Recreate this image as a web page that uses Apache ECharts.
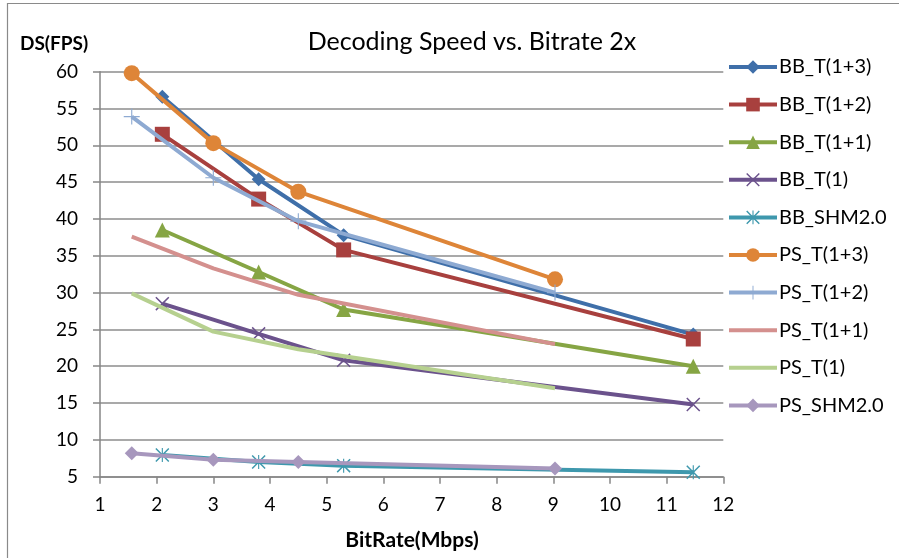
<!DOCTYPE html>
<html>
<head>
<meta charset="utf-8">
<script src="https://cdn.jsdelivr.net/npm/echarts@6/dist/echarts.min.js"></script>
<style>
html,body{margin:0;padding:0;background:#fff;}
#c{width:899px;height:558px;}
</style>
</head>
<body>
<div id="c"></div>
<script>
// ---- data ----
const seriesNames = ['BB_T(1+3)','BB_T(1+2)','BB_T(1+1)','BB_T(1)','BB_SHM2.0','PS_T(1+3)','PS_T(1+2)','PS_T(1+1)','PS_T(1)','PS_SHM2.0'];
const xBB = [2.1, 3.8, 5.3, 11.47];
const xPS = [1.56, 3.0, 4.5, 9.03];
const bbT13 = [56.6, 45.4, 37.8, 24.3];
const bbT12 = [51.5, 42.7, 35.8, 23.7];
const bbT11 = [38.5, 32.8, 27.7, 20.0];
const bbT1  = [28.5, 24.4, 20.8, 14.8];
const bbSHM = [7.95, 7.0, 6.5, 5.6];
const psT13 = [59.8, 50.3, 43.7, 31.8];
const psT12 = [53.9, 45.6, 39.7, 30.0];
const psT11 = [37.6, 33.3, 29.7, 23.0];
const psT1  = [29.9, 24.7, 22.3, 17.0];
const psSHM = [8.2, 7.3, 7.0, 6.1];
const xTicks = [1,2,3,4,5,6,7,8,9,10,11,12];
const yTicks = [5,10,15,20,25,30,35,40,45,50,55,60];

// ---- styling ----
const FONT = 'Lato, "Open Sans", sans-serif';
const X_PATH = 'path://M0,1.5L1.5,0L10,8.5L18.5,0L20,1.5L11.5,10L20,18.5L18.5,20L10,11.5L1.5,20L0,18.5L8.5,10Z';
const AST_PATH = 'path://M0,1.5L1.5,0L10,8.5L18.5,0L20,1.5L11.5,10L20,18.5L18.5,20L10,11.5L1.5,20L0,18.5L8.5,10Z M9.2,0L10.8,0L10.8,20L9.2,20Z';
const PLUS_PATH = 'path://M9.3,0L10.7,0L10.7,9.3L20,9.3L20,10.7L10.7,10.7L10.7,20L9.3,20L9.3,10.7L0,10.7L0,9.3L9.3,9.3Z';
const LINE_ICON = 'path://M0,0L48,0L48,4L0,4Z';

const defs = [
  {x: xBB, y: bbT13, color:'#3f6fa9', symbol:'diamond', size:14},
  {x: xBB, y: bbT12, color:'#a8403e', symbol:'rect', size:15},
  {x: xBB, y: bbT11, color:'#86a544', symbol:'triangle', size:15},
  {x: xBB, y: bbT1,  color:'#6b528c', symbol:X_PATH, size:14},
  {x: xBB, y: bbSHM, color:'#3e98ad', symbol:AST_PATH, size:14},
  {x: xPS, y: psT13, color:'#de8538', symbol:'circle', size:16},
  {x: xPS, y: psT12, color:'#8eaad2', symbol:PLUS_PATH, size:16},
  {x: xPS, y: psT11, color:'#d4908e', symbol:'none', size:0},
  {x: xPS, y: psT1,  color:'#b6d08f', symbol:'none', size:0},
  {x: xPS, y: psSHM, color:'#a797bd', symbol:'diamond', size:14}
];

const series = defs.map((d, i) => ({
  name: seriesNames[i],
  type: 'line',
  data: d.x.map((xv, j) => [xv, d.y[j]]),
  symbol: d.symbol,
  symbolSize: d.size,
  showSymbol: d.symbol !== 'none',
  lineStyle: {color: d.color, width: 4},
  itemStyle: {color: d.color},
  emphasis: {disabled: true},
  animation: false,
  z: 2 + i * 0.01
}));

const legendData = seriesNames.map((n, i) =>
  defs[i].symbol === 'none' ? {name: n, icon: LINE_ICON} : {name: n});

const chart = echarts.init(document.getElementById('c'));
chart.setOption({
  animation: false,
  backgroundColor: '#fff',
  grid: {left: 100, right: 175.7, top: 71.7, bottom: 81.3, containLabel: false},
  xAxis: {
    type: 'value', min: 1, max: 12, interval: 1,
    axisLine: {show: true, lineStyle: {color: '#868686', width: 1.5}},
    axisTick: {show: true, length: 7, lineStyle: {color: '#868686', width: 1.5}},
    splitLine: {show: false},
    axisLabel: {color: '#000', fontSize: 19, fontFamily: FONT, margin: 19,
      formatter: v => xTicks.includes(v) ? String(v) : ''}
  },
  yAxis: {
    type: 'value', min: 5, max: 60, interval: 5,
    axisLine: {show: true, lineStyle: {color: '#868686', width: 1.5}},
    axisTick: {show: true, length: 7, lineStyle: {color: '#868686', width: 1.5}},
    splitLine: {show: true, lineStyle: {color: '#8c8c8c', width: 1.5}},
    axisLabel: {color: '#000', fontSize: 19, fontFamily: FONT, margin: 22,
      formatter: v => yTicks.includes(v) ? String(v) : ''}
  },
  legend: {
    orient: 'vertical',
    left: 727, top: 57, padding: 0,
    itemWidth: 48, itemHeight: 17, itemGap: 17.6,
    selectedMode: false,
    lineStyle: {width: 4},
    textStyle: {color: '#000', fontSize: 20, fontFamily: FONT, lineHeight: 20, padding: [0, 0, 0, -3]},
    data: legendData
  },
  graphic: [
    {type: 'rect', silent: true, shape: {x: 7.5, y: 3.5, width: 1000, height: 1000},
      style: {fill: 'none', stroke: '#8a8a8a', lineWidth: 1.2}, z: -10},
    {type: 'text', x: 472, y: 42, silent: true,
      style: {text: 'Decoding Speed vs. Bitrate 2x', fill: '#000', font: '25px ' + FONT,
        textAlign: 'center', textVerticalAlign: 'middle'}},
    {type: 'text', x: 20, y: 44, silent: true,
      style: {text: 'DS(FPS)', fill: '#000', font: 'bold 19px ' + FONT, textVerticalAlign: 'middle'}},
    {type: 'text', x: 412, y: 540, silent: true,
      style: {text: 'BitRate(Mbps)', fill: '#000', font: 'bold 21px ' + FONT,
        textAlign: 'center', textVerticalAlign: 'middle'}}
  ],
  series: series
});
</script>
</body>
</html>
